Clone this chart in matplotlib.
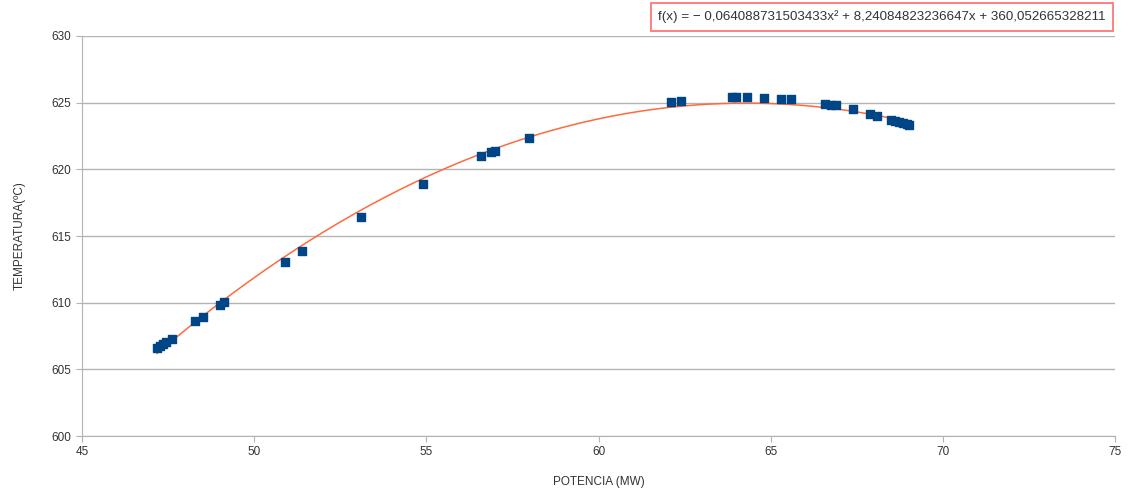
import matplotlib
matplotlib.use("Agg")
import matplotlib.pyplot as plt
import numpy as np

# data
potencia = [47.18, 47.27, 47.35, 47.44, 47.61, 48.28, 48.51, 49.0, 49.12,
            50.9, 51.39, 53.1, 54.9, 56.59, 56.88, 57.0, 57.98,
            62.1, 62.4, 63.88, 64.0, 64.3, 64.8, 65.3, 65.6,
            66.58, 66.75, 66.9, 67.39, 67.89, 68.09, 68.5, 68.61,
            68.73, 68.84, 68.96, 69.02]
temperatura = [606.6, 606.75, 606.9, 607.05, 607.3, 608.6, 608.9, 609.8, 610.05,
               613.05, 613.87, 616.4, 618.9, 621.0, 621.3, 621.37, 622.35,
               625.05, 625.1, 625.42, 625.42, 625.42, 625.35, 625.27, 625.27,
               624.9, 624.83, 624.83, 624.52, 624.15, 624.0, 623.7, 623.62,
               623.55, 623.47, 623.4, 623.3]
coef = [-0.064088731503433, 8.24084823236647, 360.052665328211]
x_ticks = [45, 50, 55, 60, 65, 70, 75]
y_ticks = [600, 605, 610, 615, 620, 625, 630]

plt.rcParams['font.family'] = ['Liberation Sans', 'DejaVu Sans']

fig = plt.figure(figsize=(11.31, 4.97), dpi=100)
ax = fig.add_axes([0.0725, 0.1227, 0.9134, 0.8049])

ax.set_xlim(45, 75)
ax.set_ylim(600, 630)
ax.set_xticks(x_ticks)
ax.set_yticks(y_ticks)
ax.yaxis.grid(True, color='#b3b3b3', linewidth=1)
ax.set_axisbelow(True)
for s in ['top', 'right']:
    ax.spines[s].set_visible(False)
for s in ['left', 'bottom']:
    ax.spines[s].set_color('#b3b3b3')
ax.tick_params(colors='#b3b3b3', labelcolor='#333333', labelsize=8.5, length=4)

# linea de tendencia
xs = np.linspace(min(potencia), max(potencia), 200)
ax.plot(xs, np.polyval(coef, xs), color='#ff6a3d', linewidth=1.1, zorder=2)

ax.scatter(potencia, temperatura, marker='s', s=30, color='#004586', zorder=3)

ax.set_xlabel('POTENCIA (MW)', fontsize=8.5, color='#333333', labelpad=13)
ax.set_ylabel('TEMPERATURA(ºC)', fontsize=8.5, color='#333333', labelpad=19)

eq = 'f(x) = − 0,064088731503433x² + 8,24084823236647x + 360,052665328211'
fig.text(0.7795, 0.966, eq, ha='center', va='center', fontsize=9.6, color='#333333',
         bbox=dict(boxstyle='square,pad=0.55', facecolor='white', edgecolor='#ff8080', linewidth=1.4))

fig.savefig('out.png', dpi=100)
